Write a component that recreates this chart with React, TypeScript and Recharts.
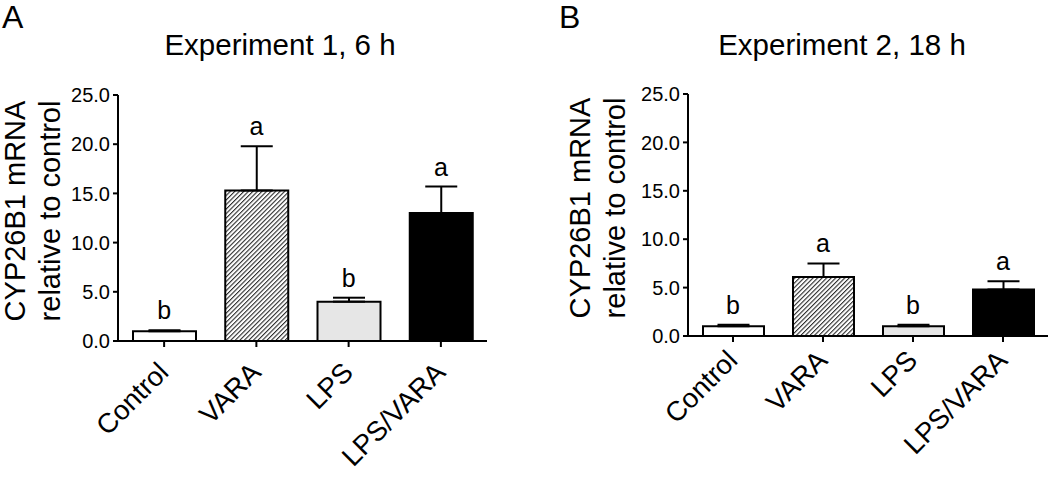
import { Bar, Cell, ComposedChart, ErrorBar, LabelList, Line, XAxis, YAxis } from 'recharts'

const categories = ['Control', 'VARA', 'LPS', 'LPS/VARA']
const exp1Means = [1.0, 15.3, 4.0, 13.0]
const exp1Errors = [0.1, 4.5, 0.4, 2.7]
const exp1Letters = ['b', 'a', 'b', 'a']
const exp2Means = [1.0, 6.1, 1.0, 4.8]
const exp2Errors = [0.15, 1.4, 0.15, 0.85]
const exp2Letters = ['b', 'a', 'b', 'a']
const yTicks = [0, 5, 10, 15, 20, 25]

const FONT = "'Liberation Sans', Arial, Helvetica, sans-serif"
const X_AXIS_H = 30

const buildRows = (means: number[], errors: number[], letters: string[]) =>
  categories.map((name, i) => ({
    name,
    mean: means[i],
    err: [0, errors[i]],
    top: means[i] + errors[i],
    letter: letters[i],
  }))

const AngledTick = ({ x, y, payload, dy }: any) => {
  const ax = x + 6
  const ay = y + dy
  return (
    <text x={ax} y={ay} transform={`rotate(-45, ${ax}, ${ay})`} textAnchor="end" fontSize={27.5} fill="#000">
      {payload.value}
    </text>
  )
}

const makeYLabel = (lineX: number) => (props: any) => {
  const vb = props.viewBox || { x: 0, y: 95, width: 100, height: 246 }
  const cy = vb.y + vb.height / 2 - 7
  const x1 = vb.x + lineX
  const x2 = x1 + 35
  return (
    <g>
      <text x={x1} y={cy} transform={`rotate(-90, ${x1}, ${cy})`} textAnchor="middle" fontSize={29} fill="#000">
        CYP26B1 mRNA
      </text>
      <text x={x2} y={cy} transform={`rotate(-90, ${x2}, ${cy})`} textAnchor="middle" fontSize={29} fill="#000">
        relative to control
      </text>
    </g>
  )
}

interface PanelProps {
  id: string
  panel: string
  title: string
  rows: ReturnType<typeof buildRows>
  width: number
  margin: { top: number; right: number; bottom: number; left: number }
  yAxisWidth: number
  barSize: number
  titleX: number
  panelX: number
  labelX: number
  tickDy: number
}

const Panel = ({ id, panel, title, rows, width, margin, yAxisWidth, barSize, titleX, panelX, labelX, tickDy }: PanelProps) => {
  const fills = ['#ffffff', `url(#${id})`, '#e6e6e6', '#000000']
  return (
    <ComposedChart width={width} height={480} data={rows} margin={margin}>
      <defs>
        <pattern id={id} width={3.2} height={3.2} patternUnits="userSpaceOnUse" patternTransform="rotate(45)">
          <rect width={3.2} height={3.2} fill="#ffffff" />
          <line x1={0} y1={0} x2={0} y2={3.2} stroke="#2b2b2b" strokeWidth={2.2} />
        </pattern>
      </defs>
      <text x={panelX} y={28} fontSize={32} fill="#000">
        {panel}
      </text>
      <text x={titleX} y={55} fontSize={29.5} textAnchor="middle" fill="#000">
        {title}
      </text>
      <XAxis
        dataKey="name"
        interval={0}
        tick={<AngledTick dy={tickDy} />}
        tickSize={6}
        axisLine={{ stroke: '#000', strokeWidth: 2 }}
        tickLine={{ stroke: '#000', strokeWidth: 2 }}
        height={X_AXIS_H}
      />
      <YAxis
        domain={[0, 25]}
        ticks={yTicks}
        interval={0}
        width={yAxisWidth}
        tickFormatter={(v: number) => v.toFixed(1)}
        tickSize={5}
        tickMargin={3}
        tick={{ fill: '#000', fontSize: 20 }}
        axisLine={{ stroke: '#000', strokeWidth: 2 }}
        tickLine={{ stroke: '#000', strokeWidth: 2 }}
        label={makeYLabel(labelX)}
      />
      <Bar dataKey="mean" barSize={barSize} stroke="#000" strokeWidth={2} isAnimationActive={false}>
        {rows.map((r, i) => (
          <Cell key={r.name} fill={fills[i]} />
        ))}
        <ErrorBar dataKey="err" direction="y" width={16} stroke="#000" strokeWidth={2} isAnimationActive={false} />
      </Bar>
      <Line dataKey="top" stroke="none" dot={false} activeDot={false} legendType="none" isAnimationActive={false}>
        <LabelList dataKey="letter" position="top" offset={11} fontSize={25} fill="#000" />
      </Line>
    </ComposedChart>
  )
}

export default function App() {
  const rows1 = buildRows(exp1Means, exp1Errors, exp1Letters)
  const rows2 = buildRows(exp2Means, exp2Errors, exp2Letters)
  return (
    <div style={{ position: 'absolute', left: 0, top: 0, width: 1050, height: 480, background: '#fff', fontFamily: FONT }}>
      <div style={{ position: 'absolute', left: 0, top: 0 }}>
        <Panel
          id="hatchA"
          panel="A"
          title="Experiment 1, 6 h"
          rows={rows1}
          width={520}
          margin={{ top: 95, right: 33, bottom: 139 - X_AXIS_H, left: 0 }}
          yAxisWidth={118}
          barSize={63}
          titleX={280}
          panelX={2}
          labelX={25}
          tickDy={25}
        />
      </div>
      <div style={{ position: 'absolute', left: 520, top: 0 }}>
        <Panel
          id="hatchB"
          panel="B"
          title="Experiment 2, 18 h"
          rows={rows2}
          width={530}
          margin={{ top: 94, right: 2, bottom: 144 - X_AXIS_H, left: 0 }}
          yAxisWidth={168}
          barSize={61}
          titleX={322}
          panelX={39}
          labelX={70}
          tickDy={18}
        />
      </div>
    </div>
  )
}
